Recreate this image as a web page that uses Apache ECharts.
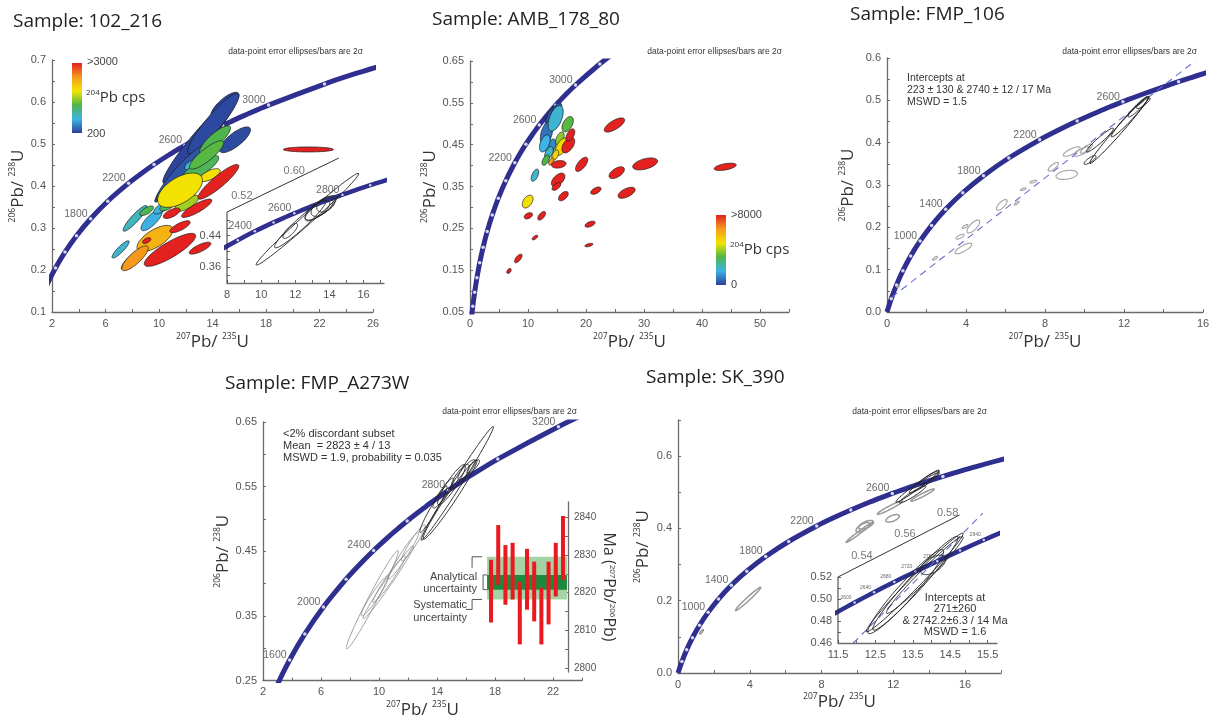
<!DOCTYPE html>
<html><head><meta charset="utf-8">
<script src="https://cdn.jsdelivr.net/npm/echarts@6/dist/echarts.min.js"></script>
<style>html,body{margin:0;padding:0;background:#fff}#c{width:1216px;height:720px}</style>
</head><body><div id="c"></div><script>
// ---------- DATA ----------
// concordia reference points: [age Ma, 207Pb/235U, 206Pb/238U]
const CONCORDIA = [
 [0,0,0],[200,0.2177,0.0315],[400,0.4828,0.0640],[600,0.8056,0.0975],[800,1.1987,0.1321],
 [1000,1.6774,0.1678],[1200,2.2603,0.2046],[1400,2.9701,0.2426],[1600,3.8344,0.2817],
 [1800,4.8869,0.3221],[2000,6.1685,0.3638],[2200,7.7292,0.4067],[2300,8.633,0.4287],[2400,9.6295,0.4511],
 [2500,10.730,0.4738],[2560,11.444,0.4875],[2600,11.944,0.4968],[2640,12.464,0.5061],[2680,13.005,0.5155],
 [2700,13.283,0.5202],[2720,13.568,0.5249],[2760,14.153,0.5344],[2800,14.762,0.5440],[2840,15.395,0.5536],
 [2900,16.393,0.5681],[3000,18.193,0.5926],[3200,22.372,0.6428],[3300,24.790,0.6685],[3400,27.460,0.6946]
];
const P1_AGE_LABELS = [1800,2200,2600,3000];
const P1_INSET_AGE_LABELS = [2400,2600,2800];
const P2_AGE_LABELS = [2200,2600,3000];
const P3_AGE_LABELS = [1000,1400,1800,2200,2600];
const P4_AGE_LABELS = [1600,2000,2400,2800,3200];
const P5_AGE_LABELS = [1000,1400,1800,2200,2600];
const P5_INSET_AGE_LABELS = [2600,2640,2680,2720,2760,2840];

// ellipses: [cx, cy, half-axis dx, half-axis dy, minor/major ratio, 204Pb cps]
const P1_ELLIPSES = [
 [13.07,0.510,2.74,0.103,0.15,220],[14.93,0.593,1.00,0.028,0.35,230],[14.06,0.549,1.87,0.071,0.20,250],
 [15.68,0.510,1.12,0.028,0.35,260],[11.32,0.422,1.62,0.060,0.14,280],[11.57,0.430,1.74,0.063,0.18,300],
 [9.45,0.319,0.75,0.024,0.35,750],[12.32,0.450,0.37,0.0095,0.5,800],[10.32,0.351,0.70,0.016,0.35,800],
 [7.13,0.249,0.62,0.020,0.25,850],[8.21,0.323,0.87,0.030,0.22,900],
 [13.07,0.442,1.37,0.028,0.3,1250],[10.70,0.355,0.62,0.012,0.4,1250],[14.19,0.510,1.12,0.032,0.3,1300],
 [9.08,0.341,0.50,0.0095,0.4,1300],[13.56,0.474,1.25,0.032,0.28,1350],[7.96,0.224,0.75,0.022,0.3,1350],
 [12.07,0.359,0.87,0.016,0.4,1600],[13.81,0.426,0.75,0.012,0.4,1900],[11.57,0.390,1.6,0.032,0.5,1900],
 [9.70,0.275,1.3,0.026,0.42,2250],[8.21,0.228,0.95,0.028,0.32,2450],
 [14.44,0.410,1.5,0.040,0.22,3000],[10.95,0.335,0.62,0.0095,0.4,3000],[12.82,0.347,1.12,0.020,0.25,3000],
 [10.82,0.248,1.9,0.036,0.26,3000],[11.57,0.303,0.75,0.012,0.32,3000],[13.07,0.252,0.80,0.012,0.3,3000],
 [9.08,0.270,0.30,0.005,0.5,3000],[21.17,0.487,1.87,0.0,0.1,3000]
];
const P1_INSET_ELLIPSES = [
 [12.71,0.4818,3.0,0.116,0.07],[12.3,0.47,1.5,0.06,0.15],[13.57,0.513,0.6,0.02,0.5],
 [13.3,0.505,0.7,0.022,0.4],[13.8,0.52,0.5,0.015,0.6],[13.5,0.51,0.9,0.03,0.3],[11.71,0.452,0.4,0.018,0.35]
];
const P2_ELLIPSES = [
 [14.08,0.509,0.69,0.032,0.40,300],[14.94,0.533,0.69,0.016,0.5,250],[13.2,0.477,0.57,0.028,0.45,700],
 [13.97,0.445,0.57,0.018,0.5,1000],[14.77,0.513,0.86,0.030,0.45,1800],[12.9,0.453,0.57,0.020,0.5,1600],
 [13.6,0.43,0.5,0.015,0.5,1900],[11.2,0.377,0.46,0.0143,0.45,1900],
 [16.84,0.499,0.69,0.0175,0.55,3300],[13.05,0.413,0.46,0.012,0.5,3200],[15.5,0.465,0.5,0.015,0.5,3800],
 [9.94,0.314,0.69,0.0143,0.6,4900],[15.8,0.445,0.86,0.020,0.5,5000],[14.7,0.425,0.4,0.012,0.5,5200],
 [14.0,0.41,0.35,0.008,0.5,6400],
 [24.9,0.497,1.72,0.0143,0.38,8000],[30.2,0.404,2.13,0.008,0.4,8000],[44.0,0.397,1.9,0.0048,0.28,8000],
 [25.3,0.383,1.26,0.011,0.5,8000],[19.25,0.403,0.92,0.016,0.45,8000],[15.3,0.403,1.26,0.0024,0.5,8000],
 [15.2,0.366,1.03,0.014,0.55,8000],[14.9,0.35,0.69,0.008,0.5,8000],[16.1,0.327,0.75,0.0096,0.55,8000],
 [21.7,0.34,0.86,0.0064,0.5,8000],[27.0,0.335,1.44,0.0096,0.45,8000],[10.06,0.280,0.69,0.0048,0.6,8000],
 [12.36,0.280,0.57,0.0096,0.5,8000],[20.7,0.260,0.86,0.0048,0.45,8000],[11.2,0.228,0.46,0.0048,0.45,8000],
 [20.5,0.210,0.69,0.0024,0.35,8000],[8.33,0.178,0.57,0.0096,0.45,8000],[6.72,0.148,0.29,0.0056,0.6,8000],
 [16.95,0.449,0.86,0.0175,0.55,8000],[17.3,0.473,0.57,0.0143,0.5,8000]
];
const P3_BLACK = [
 [11.76,0.43,1.49,0.079,0.08],[12.3,0.461,0.93,0.047,0.12],[12.73,0.485,0.51,0.024,0.18],
 [10.28,0.359,0.30,0.0094,0.3],[10.78,0.406,0.68,0.028,0.15],[12.98,0.493,0.34,0.012,0.25]
];
const P3_GRAY = [
 [9.35,0.379,0.42,0.0094,0.3],[9.86,0.379,0.42,0.0094,0.3],[9.10,0.324,0.54,0.004,0.4],[8.42,0.343,0.25,0.0094,0.35],
 [7.41,0.308,0.17,0.0024,0.3],[6.9,0.29,0.14,0.0024,0.3],[5.81,0.253,0.25,0.0118,0.4],[6.57,0.257,0.12,0.004,0.3],
 [4.37,0.202,0.30,0.0142,0.4],[3.87,0.150,0.42,0.011,0.3],[3.7,0.178,0.2,0.0047,0.35],[3.95,0.202,0.14,0.004,0.35],
 [2.43,0.127,0.12,0.004,0.35],[0.57,0.06,0.07,0.0024,0.35],[10.1,0.386,0.3,0.01,0.3]
];
const P3_DISCORDIA = [[0.25,0.035],[15.6,0.593]];
const P4_BLACK = [
 [15.4,0.555,2.48,0.088,0.06],[14.9,0.53,1.84,0.0615,0.10],[15.0,0.553,0.92,0.031,0.2],[14.44,0.54,0.69,0.023,0.2],
 [15.6,0.566,0.57,0.018,0.3],[16.05,0.576,0.57,0.015,0.3],[13.75,0.515,0.92,0.036,0.12],[16.5,0.581,0.41,0.010,0.3]
];
const P4_GRAY = [
 [9.54,0.375,1.77,0.076,0.08],[10.64,0.402,1.72,0.056,0.08],[10.7,0.407,1.1,0.036,0.12],
 [11.68,0.443,1.03,0.036,0.12],[12.37,0.463,0.8,0.028,0.15],[9.72,0.381,0.92,0.031,0.15]
];
// weighted mean inset (Ma, 207Pb/206Pb)
const WM_INDEX = [1,2,3,4,5,6,7,8,9,10,11];
const WM_LOW  = [2812.1,2822.1,2816.8,2818.2,2806.3,2815.5,2812.4,2806.3,2811.6,2819.0,2823.4];
const WM_HIGH = [2828.7,2837.9,2832.6,2833.2,2822.9,2831.6,2828.2,2821.3,2828.2,2833.2,2840.3];
const SYSTEMATIC = [2818.2,2829.5];
const ANALYTICAL = [2820.8,2824.7];
const BAND_X = [0.45,11.55];
const WM_LABELS = [2800,2810,2820,2830,2840];
const P5_BLACK = [[13.35,0.517,1.2,0.044,0.1],[13.72,0.526,0.83,0.0275,0.15],[13.07,0.494,0.74,0.023,0.15],[14.0,0.540,0.56,0.018,0.2]];
const P5_GRAY = [
 [13.63,0.4924,0.65,0.0165,0.12],[11.81,0.4576,0.7,0.018,0.12],[11.96,0.428,0.37,0.0073,0.4],[10.48,0.41,0.41,0.009,0.4],
 [10.3,0.403,0.37,0.011,0.4],[10.11,0.389,0.74,0.0275,0.08],[3.91,0.205,0.7,0.032,0.1],[1.31,0.114,0.1,0.006,0.3]
];
const P5_INSET_ELLIPSES = [[13.55,0.515,1.29,0.0447,0.08],[13.57,0.5143,1.13,0.0424,0.12],[13.31,0.5067,1.0,0.0379,0.15],[13.82,0.5218,1.02,0.0348,0.1],[14.04,0.531,0.32,0.007,0.5]];
const P5_INSET_DISCORDIA = [[11.91,0.46],[15.37,0.578]];
// inset frames (vertical axis continuing as slanted axis) and slanted axis labels
const P1_INSET_FRAME = [[8,0.32],[8,0.50],[14.55,0.637]];
const P1_INSET_SLANT = [[8.87,0.518,'0.52'],[11.94,0.582,'0.60']];
const P5_INSET_FRAME = [[11.5,0.46],[11.5,0.52],[14.75,0.5764]];
const P5_INSET_SLANT = [[12.14,0.5311,'0.54'],[13.29,0.5511,'0.56'],[14.43,0.5708,'0.58']];
// tick labels
const P1_X_LABELS=[2,6,10,14,18,22,26], P1_Y_LABELS=[0.1,0.2,0.3,0.4,0.5,0.6,0.7];
const P1I_X_LABELS=[8,10,12,14,16], P1I_Y_LABELS=[0.36,0.44];
const P2_X_LABELS=[0,10,20,30,40,50], P2_Y_LABELS=[0.05,0.15,0.25,0.35,0.45,0.55,0.65];
const P3_X_LABELS=[0,4,8,12,16], P3_Y_LABELS=[0,0.1,0.2,0.3,0.4,0.5,0.6];
const P4_X_LABELS=[2,6,10,14,18,22], P4_Y_LABELS=[0.25,0.35,0.45,0.55,0.65];
const P5_X_LABELS=[0,4,8,12,16], P5_Y_LABELS=[0,0.2,0.4,0.6];
const P5I_X_LABELS=[11.5,12.5,13.5,14.5,15.5], P5I_Y_LABELS=[0.46,0.48,0.50,0.52];
const CPS_COLORS = ['#2b3f98','#3cb4e5','#4fb548','#f3e500','#f59a1c','#e3211f'];

// ---------- CHART ----------
const FONT_T = "'Open Sans','Noto Sans',sans-serif";
const FONT_L = "'Liberation Sans',Arial,sans-serif";
const NAVY = '#2e2f8f', AXC = '#6b6b6b';
function steps(a,b,s){const r=[];for(let v=a;v<=b+1e-9;v+=s)r.push(Math.round(v*1e6)/1e6);return r;}
const NAME_RICH = {
  s:{fontSize:8.5,verticalAlign:'top',lineHeight:9,fontFamily:FONT_T,color:'#333'},
  n:{fontSize:17,lineHeight:20,fontFamily:FONT_T,color:'#333'}
};
function pbName(a,b){return '{s|'+a+'}{n|Pb/ }{s|'+b+'}{n|U}';}
function ax(gi,min,max,labels,ticks,dec,extra){
  return Object.assign({type:'value',gridIndex:gi,min:min,max:max,splitLine:{show:false},
    axisLine:{show:true,onZero:false,lineStyle:{color:AXC,width:1.3}},
    axisTick:{show:true,inside:true,length:3,customValues:ticks,lineStyle:{color:AXC,width:1}},
    axisLabel:{show:true,customValues:labels,formatter:v=>Number(v).toFixed(dec),color:'#555',fontFamily:FONT_L,fontSize:11,margin:6},
    nameTextStyle:{rich:NAME_RICH}},extra||{});
}
const xN = g=>({name:pbName('207','235'),nameLocation:'middle',nameGap:g});
const yN = g=>({name:pbName('206','238'),nameLocation:'middle',nameGap:g});

const grid = [
 {left:52,top:60,width:321,height:252},
 {left:227,top:149,width:157,height:134},
 {left:470,top:61,width:319,height:251},
 {left:887,top:58,width:316,height:254},
 {left:263,top:422,width:319,height:260},
 {left:486,top:502,width:82,height:170},
 {left:678,top:420,width:323,height:253},
 {left:838,top:489,width:159,height:154}
];
const xAxis = [
 ax(0,2,26,P1_X_LABELS,steps(2,26,2),0,xN(20)),
 ax(1,8,17.2,P1I_X_LABELS,steps(8,17,1),0),
 ax(2,0,55,P2_X_LABELS,steps(0,55,5),0,xN(20)),
 ax(3,0,16,P3_X_LABELS,steps(0,16,2),0,xN(20)),
 ax(4,2,24,P4_X_LABELS,steps(2,24,2),0,xN(20)),
 {type:'value',gridIndex:5,min:0.3,max:11.7,show:false},
 ax(6,0,18,P5_X_LABELS,steps(0,18,2),0,xN(19)),
 ax(7,11.5,15.75,P5I_X_LABELS,steps(11.5,15.5,0.5),1)
];
const yAxis = [
 ax(0,0.1,0.7,P1_Y_LABELS,steps(0.1,0.7,0.05),1,yN(17)),
 ax(1,0.32,0.66,P1I_Y_LABELS,steps(0.34,0.48,0.02),2,{axisLine:{show:false}}),
 ax(2,0.05,0.65,P2_Y_LABELS,steps(0.05,0.65,0.05),2,yN(27)),
 ax(3,0,0.6,P3_Y_LABELS,steps(0,0.6,0.05),1,yN(29)),
 ax(4,0.25,0.65,P4_Y_LABELS,steps(0.25,0.65,0.05),2,yN(28)),
 ax(5,2799,2844,WM_LABELS,steps(2800,2840,5),0,{position:'right',name:'Ma ({s|207}Pb/{s|206}Pb)',nameLocation:'middle',nameRotate:-90,nameGap:32,
    nameTextStyle:{fontSize:16,fontFamily:FONT_T,color:'#333',rich:{s:{fontSize:8,verticalAlign:'top',lineHeight:9,fontFamily:FONT_T,color:'#333'}}},
    axisLabel:{customValues:WM_LABELS,formatter:v=>String(v),color:'#555',fontFamily:FONT_L,fontSize:10,margin:6}}),
 ax(6,0,0.7,P5_Y_LABELS,steps(0,0.7,0.1),1,yN(25)),
 ax(7,0.46,0.60,P5I_Y_LABELS,steps(0.46,0.52,0.01),2,{axisLine:{show:false}})
];

const series = [];
function add(s){series.push(Object.assign({xAxisIndex:s.g,yAxisIndex:s.g,silent:true,animation:false},s));return series.length-1;}
function concordia(g,lw,dotFilter,ds,labelAges,lfs){
  add({g:g,type:'line',data:CONCORDIA.map(c=>[c[1],c[2]]),smooth:0.3,symbol:'none',lineStyle:{color:NAVY,width:lw},z:2});
  add({g:g,type:'scatter',data:CONCORDIA.filter(c=>c[0]>0&&dotFilter(c[0])).map(c=>[c[1],c[2]]),symbolSize:ds,itemStyle:{color:'#fff'},z:3});
  add({g:g,type:'scatter',data:CONCORDIA.filter(c=>labelAges.includes(c[0])).map(c=>[c[1],c[2],c[0]]),symbolSize:0,z:6,
    label:{show:true,position:'left',distance:3,offset:[0,-5],formatter:p=>String(p.value[2]),color:'#444',fontFamily:FONT_L,fontSize:lfs}});
}
function ellRender(mode,stroke,lw){
  return function(params,api){
    const cx=api.value(0),cy=api.value(1),ex=api.value(2),ey=api.value(3),r=api.value(4);
    const c=api.coord([cx,cy]),e=api.coord([cx+ex,cy+ey]);
    const axx=e[0]-c[0],ayy=e[1]-c[1],bx=-ayy*r,by=axx*r;const pts=[];
    for(let i=0;i<64;i++){const t=i/64*Math.PI*2;pts.push([c[0]+axx*Math.cos(t)+bx*Math.sin(t),c[1]+ayy*Math.cos(t)+by*Math.sin(t)]);}
    return {type:'polygon',shape:{points:pts},style:{fill:mode==='fill'?api.visual('color'):'none',stroke:stroke,lineWidth:lw}};
  };
}
function ellipses(g,data,mode,stroke,lw){
  return add({g:g,type:'custom',data:data,renderItem:ellRender(mode,stroke,lw),encode:{x:0,y:1},z:4,clip:true});
}
function dashed(g,data){add({g:g,type:'line',data:data,symbol:'none',lineStyle:{color:'#6a6fd0',width:1.1,type:[7,5]},z:3});}
function frame(g,data,slant){
  add({g:g,type:'line',data:data,symbol:'none',lineStyle:{color:'#333',width:1},z:3});
  add({g:g,type:'scatter',data:slant,symbolSize:0,z:6,label:{show:true,position:'top',distance:3,formatter:p=>p.value[2],color:'#555',fontFamily:FONT_L,fontSize:11}});
}

// panel 1
concordia(0,5,a=>a%200===0,3.5,P1_AGE_LABELS,10.5);
const sP1 = ellipses(0,P1_ELLIPSES,'fill','#1a1a1a',0.7);
frame(1,P1_INSET_FRAME,P1_INSET_SLANT);
concordia(1,4.5,a=>a%100===0,2.5,P1_INSET_AGE_LABELS,10.5);
ellipses(1,P1_INSET_ELLIPSES,'line','#222',0.9);
// panel 2
concordia(2,5,a=>a%200===0,3.5,P2_AGE_LABELS,10.5);
const sP2 = ellipses(2,P2_ELLIPSES,'fill','#1a1a1a',0.7);
// panel 3
concordia(3,5,a=>a%200===0,3.5,P3_AGE_LABELS,10.5);
dashed(3,P3_DISCORDIA);
ellipses(3,P3_GRAY,'line','#a8a8a8',1.2);
ellipses(3,P3_BLACK,'line','#222',1);
// panel 4
concordia(4,5,a=>a%200===0,3.5,P4_AGE_LABELS,10.5);
ellipses(4,P4_GRAY,'line','#8c8c8c',0.8);
ellipses(4,P4_BLACK,'line','#222',0.9);
add({g:5,type:'custom',data:[[BAND_X[0],BAND_X[1],SYSTEMATIC[0],SYSTEMATIC[1]],[BAND_X[0],BAND_X[1],ANALYTICAL[0],ANALYTICAL[1]]],z:3,
  renderItem:(p,api)=>{const a=api.coord([api.value(0),api.value(3)]),b=api.coord([api.value(1),api.value(2)]);
    return {type:'rect',shape:{x:a[0],y:a[1],width:b[0]-a[0],height:b[1]-a[1]},style:{fill:p.dataIndex===0?'#a6d3a6':'#1b8a3c'}};}});
add({g:5,type:'custom',data:WM_INDEX.map((i,k)=>[i,WM_LOW[k],WM_HIGH[k]]),z:4,
  renderItem:(p,api)=>{const a=api.coord([api.value(0),api.value(2)]),b=api.coord([api.value(0),api.value(1)]);
    return {type:'rect',shape:{x:a[0]-2,y:a[1],width:4,height:b[1]-a[1]},style:{fill:'#e8191f'}};}});
// panel 5
concordia(6,5,a=>a%200===0,3.5,P5_AGE_LABELS,10.5);
ellipses(6,P5_GRAY,'line','#9a9a9a',1.5);
ellipses(6,P5_BLACK,'line','#222',1);
frame(7,P5_INSET_FRAME,P5_INSET_SLANT);
concordia(7,4.5,a=>a%40===0,2.5,P5_INSET_AGE_LABELS,5);
dashed(7,P5_INSET_DISCORDIA);
ellipses(7,P5_INSET_ELLIPSES,'line','#222',0.9);

const option = {
  backgroundColor:'#fff',animation:false,grid:grid,xAxis:xAxis,yAxis:yAxis,series:series,
  visualMap:[
    {type:'continuous',show:false,min:200,max:3000,dimension:5,seriesIndex:sP1,inRange:{color:CPS_COLORS}},
    {type:'continuous',show:false,min:0,max:8000,dimension:5,seriesIndex:sP2,inRange:{color:CPS_COLORS}}
  ]
};
const chart = echarts.init(document.getElementById('c'),null,{renderer:'canvas'});
chart.setOption(option);

// ---------- TEXT / DECORATION ----------
function T(x,y,text,o){o=o||{};return {type:'text',x:x,y:y,silent:true,z:10,style:Object.assign({text:text,fill:'#333',fontFamily:FONT_L,fontSize:11,
  textAlign:o.align||'left',align:o.align||'left',textVerticalAlign:'middle',verticalAlign:'middle'},o.style||{})};}
function title(x,y,t){return T(x,y,t,{style:{fontFamily:FONT_T,fontSize:19,fill:'#222'}});}
function note(xr,y){return T(xr,y,'data-point error ellipses/bars are 2\u03c3',{align:'right',style:{fontSize:8.5,fill:'#333'}});}
const CPS_RICH = {s:{fontSize:8,verticalAlign:'top',lineHeight:9,fontFamily:FONT_T,fill:'#333',color:'#333'},n:{fontSize:15,lineHeight:18,fontFamily:FONT_T,fill:'#333',color:'#333'}};
function gradBar(x,y,w,h){return {type:'rect',silent:true,z:10,shape:{x:x,y:y,width:w,height:h},
  style:{fill:new echarts.graphic.LinearGradient(0,1,0,0,CPS_COLORS.map((c,i)=>({offset:i/(CPS_COLORS.length-1),color:c})))}};}
const G = [
  title(13,22,'Sample: 102_216'), title(432,20,'Sample: AMB_178_80'), title(850,15,'Sample: FMP_106'),
  title(225,384,'Sample: FMP_A273W'), title(646,378,'Sample: SK_390'),
  note(363,52), note(782,52), note(1197,52), note(577,412), note(987,412),
  gradBar(72,63,10,70), T(87,62,'>3000',{style:{fill:'#444'}}), T(87,134,'200',{style:{fill:'#444'}}),
  T(86,98,'{s|204}{n|Pb cps}',{style:{rich:CPS_RICH}}),
  gradBar(716,215,10,70), T(731,215,'>8000',{style:{fill:'#444'}}), T(731,285,'0',{style:{fill:'#444'}}),
  T(730,250,'{s|204}{n|Pb cps}',{style:{rich:CPS_RICH}}),
  T(907,90,'Intercepts at\n223 \u00b1 130 & 2740 \u00b1 12 / 17 Ma\nMSWD = 1.5',{style:{fontSize:10.5,lineHeight:12,fill:'#333'}}),
  T(283,446,'<2% discordant subset\nMean  = 2823 \u00b1 4 / 13\nMSWD = 1.9, probability = 0.035',{style:{fontSize:11,lineHeight:12,fill:'#333'}}),
  T(955,615,'Intercepts at\n271\u00b1260\n& 2742.2\u00b16.3 / 14 Ma\nMSWD = 1.6',{align:'center',style:{fontSize:11,lineHeight:11.5,fill:'#333'}})
];
const pTop = chart.convertToPixel({gridIndex:5},[BAND_X[0],SYSTEMATIC[1]]);
const pBot = chart.convertToPixel({gridIndex:5},[BAND_X[0],SYSTEMATIC[0]]);
const aTop = chart.convertToPixel({gridIndex:5},[BAND_X[0],ANALYTICAL[1]]);
const aBot = chart.convertToPixel({gridIndex:5},[BAND_X[0],ANALYTICAL[0]]);
const L = pTop[0];
function pl(pts){return {type:'polyline',silent:true,z:10,shape:{points:pts},style:{stroke:'#555',lineWidth:1,fill:'none'}};}
G.push(pl([[L-5,pTop[1]],[L-15,pTop[1]],[L-15,pTop[1]+11]]));
G.push(pl([[L-5,pBot[1]],[L-15,pBot[1]],[L-15,pBot[1]+10],[L-21,pBot[1]+10]]));
G.push(pl([[L,aTop[1]],[L-4,aTop[1]],[L-4,aBot[1]],[L,aBot[1]]]));
G.push(T(L-10,aTop[1]+2,'Analytical',{align:'right',style:{fill:'#444'}}));
G.push(T(L-10,aTop[1]+14,'uncertainty',{align:'right',style:{fill:'#444'}}));
G.push(T(L-20,pBot[1]+6,'Systematic',{align:'right',style:{fill:'#444'}}));
G.push(T(L-20,pBot[1]+19,'uncertainty',{align:'right',style:{fill:'#444'}}));
chart.setOption({graphic:G});
</script></body></html>
